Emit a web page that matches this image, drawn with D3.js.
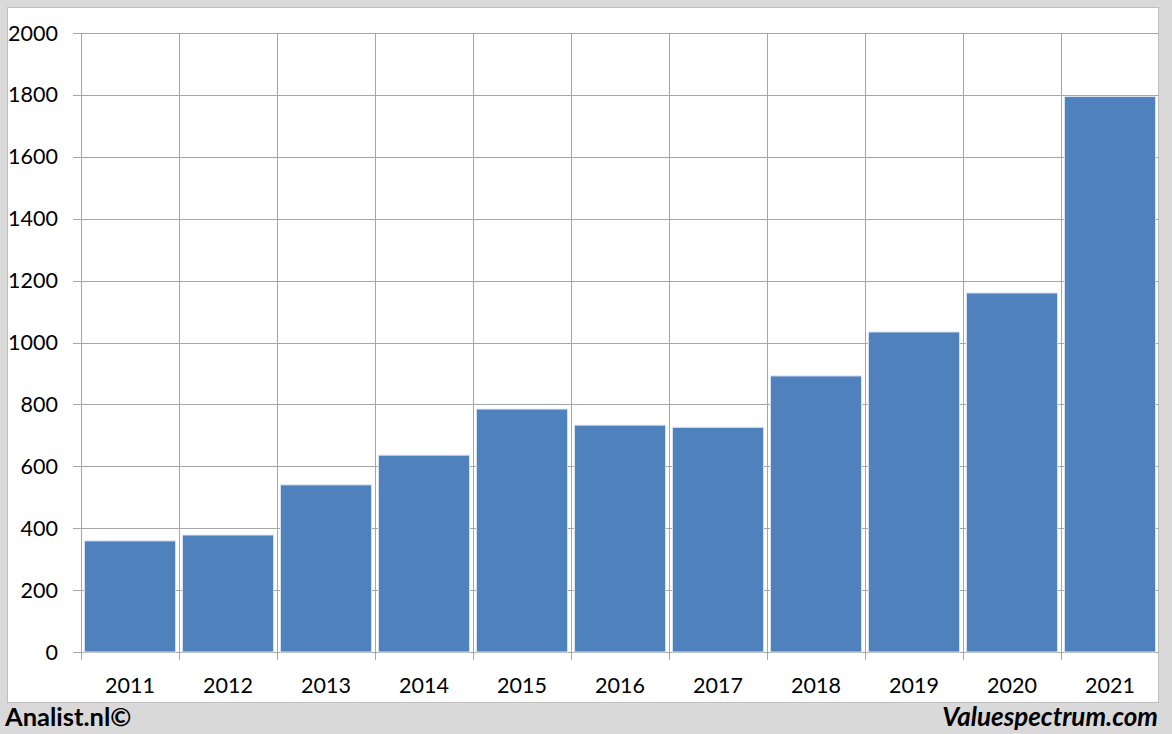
<!DOCTYPE html>
<html><head><meta charset="utf-8">
<script src="https://cdn.jsdelivr.net/npm/d3@7"></script>
<style>body{margin:0;background:#d9d9d9;}svg{display:block;}</style>
</head><body>
<svg id="c" width="1172" height="734"></svg>
<script>
const years = ["2011","2012","2013","2014","2015","2016","2017","2018","2019","2020","2021"];
const values = [359, 378, 540, 636, 785, 733, 726, 892, 1034, 1160, 1795];
const yTicks = [0,200,400,600,800,1000,1200,1400,1600,1800,2000];

const svg = d3.select("#c");
const font = "Lato, 'Open Sans', sans-serif";
svg.append("rect").attr("x",0).attr("y",0).attr("width",1172).attr("height",734).attr("fill","#d9d9d9");
svg.append("rect").attr("x",7.5).attr("y",7.5).attr("width",1151).attr("height",695).attr("fill","#fff").attr("stroke","#bfbfbf");

const x = d3.scaleBand().domain(years).range([81,1159]).paddingInner(0.07).paddingOuter(0.035);
const y = d3.scaleLinear().domain([0,2000]).range([652,33]);

// horizontal gridlines
svg.append("g").selectAll("line").data(yTicks).join("line")
  .attr("x1",73).attr("x2",1159).attr("y1",d=>Math.round(y(d))+0.5).attr("y2",d=>Math.round(y(d))+0.5)
  .attr("stroke","#a6a6a6").attr("stroke-width",1);
// vertical gridlines at category boundaries
const step = x.step();
const bounds = d3.range(years.length).map(i=>81+i*step);
svg.append("g").selectAll("line").data(bounds).join("line")
  .attr("x1",d=>Math.round(d)+0.5).attr("x2",d=>Math.round(d)+0.5).attr("y1",33).attr("y2",660)
  .attr("stroke","#a6a6a6").attr("stroke-width",1);

// bars
svg.append("g").selectAll("rect").data(values).join("rect")
  .attr("x",(d,i)=>x(years[i])).attr("width",x.bandwidth())
  .attr("y",d=>y(d)).attr("height",d=>y(0)-y(d))
  .attr("fill","#4f81bd").attr("stroke","#dbe5f1").attr("stroke-width",1);

// y labels
svg.append("g").selectAll("text").data(yTicks).join("text")
  .attr("x",58).attr("y",d=>y(d)).attr("dy","0.35em").attr("text-anchor","end")
  .attr("font-family",font).attr("font-size",21.5).attr("fill","#000").text(d=>d);
// x labels
svg.append("g").selectAll("text").data(years).join("text")
  .attr("x",d=>x(d)+x.bandwidth()/2).attr("y",685).attr("dy","0.35em").attr("text-anchor","middle")
  .attr("font-family",font).attr("font-size",21.5).attr("fill","#000").text(d=>d);

svg.append("text").attr("x",5).attr("y",726).attr("font-family",font).attr("font-weight","bold")
  .attr("font-size",25.5).attr("fill","#000").text("Analist.nl©");
svg.append("text").attr("x",1158).attr("y",726).attr("text-anchor","end").attr("font-family",font)
  .attr("font-weight","bold").attr("font-style","italic").attr("font-size",26).attr("fill","#000").text("Valuespectrum.com");
</script>
</body></html>
